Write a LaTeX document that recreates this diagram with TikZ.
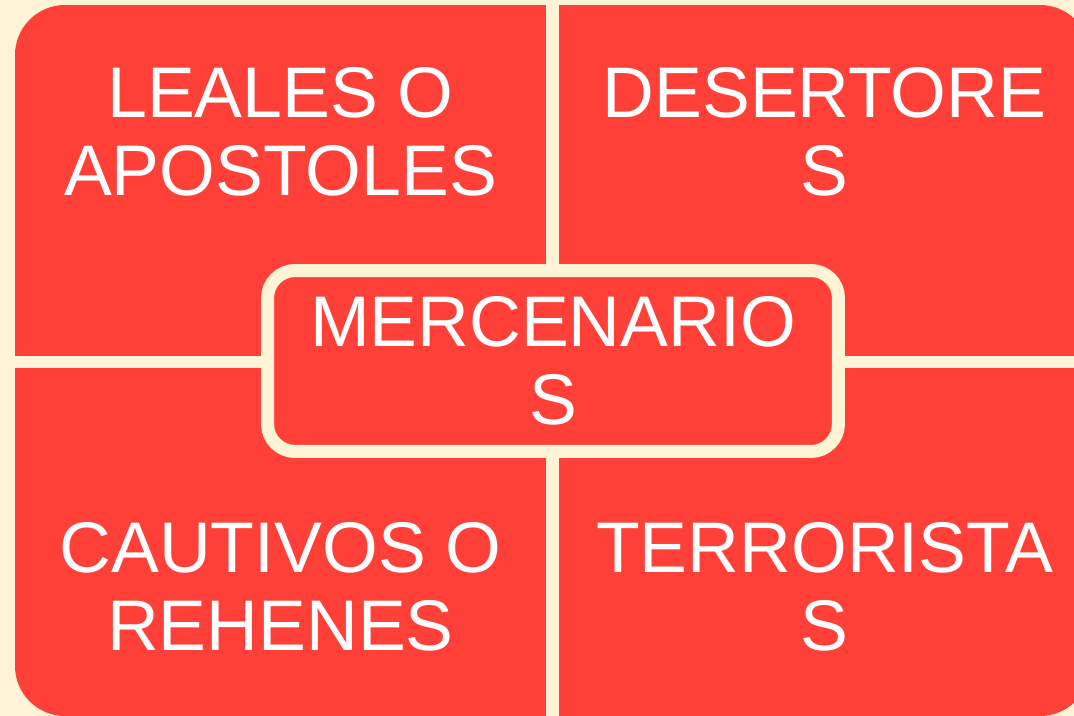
\documentclass[tikz,border=0pt]{standalone}
\usepackage{fontspec}
\setmainfont{Liberation Sans}
\definecolor{CardRed}{RGB}{255, 64, 56}
\definecolor{CreamBg}{RGB}{255, 243, 214}
\tikzstyle{quad} = [fill=CardRed]
\tikzstyle{quadtext} = [text=white, align=center, anchor=north, inner sep=0pt, font=\fontsize{40.8}{44.2}\selectfont]
\tikzstyle{hub} = [rectangle, rounded corners=0.55cm, minimum width=11.42cm, minimum height=3.62cm, draw=CreamBg, line width=0.26cm, fill=CardRed, text=white, align=center, inner sep=0pt, font=\fontsize{40.8}{44.2}\selectfont]

\begin{document}
\begin{tikzpicture}[x=0.02cm, y=-0.02cm]

\useasboundingbox (0,0) rectangle (1074,716);
\fill[CreamBg] (0,0) rectangle (1074,716);
\clip (0,0) rectangle (1074,716);

% Cuadrantes
\begin{scope}
\clip[rounded corners=1cm] (15,5) rectangle (1090,716);
\fill[quad] (15,5) rectangle (546,356);
\fill[quad] (559,5) rectangle (1090,356);
\fill[quad] (15,368) rectangle (546,716);
\fill[quad] (559,368) rectangle (1090,716);
\end{scope}

% Textos de los cuadrantes
\node (leales) [quadtext] at (280.5,67) {LEALES O\\APOSTOLES};
\node (desertores) [quadtext] at (824.5,67) {DESERTORE\\S};
\node (cautivos) [quadtext] at (280.5,522) {CAUTIVOS O\\REHENES};
\node (terroristas) [quadtext] at (824.5,522) {TERRORISTA\\S};

% Centro
\node (mercenarios) [hub] at (553,361) {MERCENARIO\\S};

\end{tikzpicture}
\end{document}
